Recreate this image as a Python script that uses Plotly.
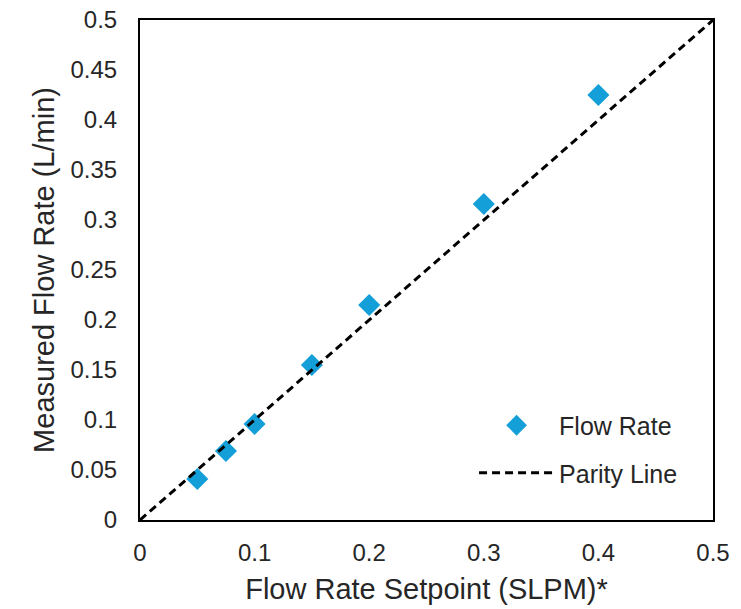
import plotly.graph_objects as go

# Flow controller check: setpoint vs measured flow
setpoint_slpm = [0.05, 0.075, 0.1, 0.15, 0.2, 0.3, 0.4]
measured_lpm = [0.041, 0.069, 0.096, 0.155, 0.215, 0.316, 0.425]

parity_x = [0, 0.5]
parity_y = [0, 0.5]

x_ticks = [0, 0.1, 0.2, 0.3, 0.4, 0.5]
x_tick_text = ["0", "0.1", "0.2", "0.3", "0.4", "0.5"]
y_ticks = [0, 0.05, 0.1, 0.15, 0.2, 0.25, 0.3, 0.35, 0.4, 0.45, 0.5]
y_tick_text = ["0", "0.05", "0.1", "0.15", "0.2", "0.25", "0.3", "0.35", "0.4", "0.45", "0.5"]

FONT = "Liberation Sans, Arial, sans-serif"
TEXT = "#262626"

fig = go.Figure()
fig.add_trace(go.Scatter(
    x=setpoint_slpm, y=measured_lpm, mode="markers", name="Flow Rate",
    legendgroup="a",
    marker=dict(symbol="diamond", size=17, color="#149FD8", line=dict(width=0)),
))
fig.add_trace(go.Scatter(
    x=parity_x, y=parity_y, mode="lines", name="Parity Line",
    legendgroup="b",
    line=dict(color="black", width=3, dash="8px,5px"),
))

axis_common = dict(
    showgrid=False, zeroline=False, showline=True, linecolor="black",
    linewidth=2, mirror=True, ticks="", automargin=False,
    tickfont=dict(family=FONT, size=24, color=TEXT),
)

fig.update_layout(
    width=741, height=609,
    margin=dict(l=140, r=28, t=20, b=89),
    paper_bgcolor="white", plot_bgcolor="white",
    font=dict(family=FONT, color=TEXT),
    xaxis=dict(range=[0, 0.5], tickvals=x_ticks, ticktext=x_tick_text,
               ticklabelstandoff=10,
               title=dict(text="Flow Rate Setpoint (SLPM)*", standoff=14,
                          font=dict(family=FONT, size=29, color=TEXT)),
               **axis_common),
    yaxis=dict(range=[0, 0.5], tickvals=y_ticks, ticktext=y_tick_text,
               ticklabelstandoff=16,
               title=dict(text="Measured Flow Rate (L/min)", standoff=7,
                          font=dict(family=FONT, size=29, color=TEXT)),
               **axis_common),
    legend=dict(x=0.583, y=0.235, xanchor="left", yanchor="top",
                bgcolor="rgba(0,0,0,0)", traceorder="grouped",
                tracegroupgap=12, itemwidth=75,
                font=dict(family=FONT, size=25, color=TEXT)),
)

fig.write_html("out.html")
